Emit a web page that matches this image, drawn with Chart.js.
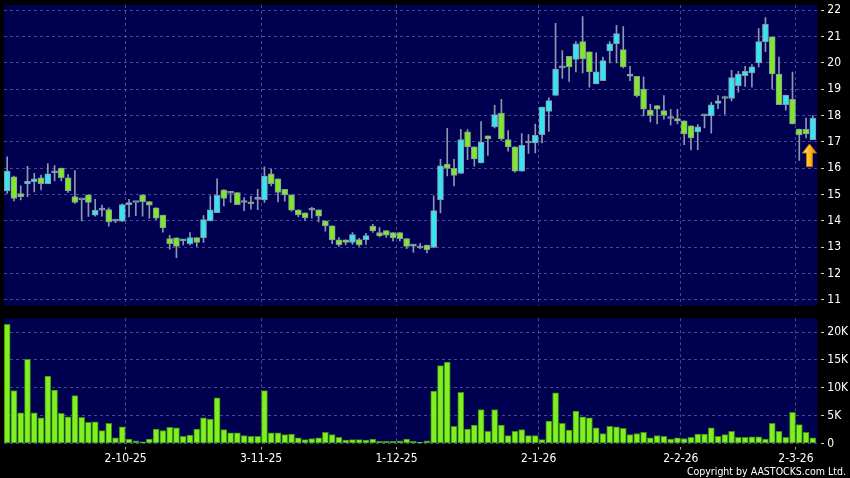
<!DOCTYPE html>
<html lang="en">
<head>
  <meta charset="UTF-8" />
  <title>AASTOCKS daily chart</title>
  <script src="https://cdn.jsdelivr.net/npm/chart.js"></script>
  <style>
    * { margin: 0; padding: 0; box-sizing: border-box; }
    body {
      background: #000;
      width: 850px; height: 478px;
      overflow: hidden; position: relative;
      font-family: 'DejaVu Sans Condensed', 'DejaVu Sans', sans-serif;
    }
    #priceChart { position: absolute; left: 0; top: 0; }
    #volChart { position: absolute; left: 0; top: 318px; }
    .copy {
      position: absolute; right: 4px; top: 465px;
      color: #fff; font-size: 10.5px; line-height: 12px; white-space: nowrap;
    }
  </style>
</head>
<body>
  <canvas id="priceChart" width="850" height="318"></canvas>
  <canvas id="volChart" width="850" height="160"></canvas>
  <div class="copy">Copyright by AASTOCKS.com Ltd.</div>

<script>
// daily candles, oldest first
const opens = [
  15.14,15.67,15.04,15.41,15.49,15.64,15.41,15.83,16.01,15.64,
  14.92,14.80,14.99,14.22,14.41,14.43,13.99,13.99,14.62,14.70,
  14.99,14.73,14.50,14.22,13.33,13.36,13.24,13.14,13.37,13.36,
  14.00,14.31,15.18,15.05,15.08,14.70,14.72,14.82,14.80,15.79,
  15.60,15.20,14.99,14.42,14.31,14.41,14.42,14.00,13.81,13.28,
  13.28,13.18,13.29,13.29,13.80,13.56,13.63,13.56,13.56,13.33,
  13.04,12.97,13.08,12.99,14.81,16.16,16.00,15.80,17.38,16.81,
  16.20,17.23,17.57,18.10,17.09,16.81,15.89,16.96,16.96,17.28,
  18.16,18.77,19.81,20.25,20.13,20.81,20.42,19.20,19.33,20.46,
  20.73,20.51,19.50,19.49,19.01,18.21,18.38,18.19,17.89,17.89,
  17.80,17.61,17.38,17.99,17.99,18.46,18.65,18.65,19.14,19.52,
  19.62,20.00,20.81,20.99,19.58,18.41,18.62,17.49,17.49,17.09
];
const highs = [
  16.43,15.70,15.33,16.07,15.81,15.74,16.18,16.10,16.01,15.76,
  15.91,14.80,14.99,14.82,14.60,14.50,14.05,14.65,14.82,14.70,
  14.99,14.73,14.50,14.22,13.45,13.36,13.30,13.56,13.37,14.20,
  14.95,15.60,15.18,15.12,15.08,14.89,14.93,15.20,16.05,15.98,
  15.60,15.20,14.99,14.42,14.31,14.52,14.42,14.00,13.81,13.37,
  13.28,13.56,13.34,13.53,13.87,13.75,13.63,13.56,13.56,13.33,
  13.11,13.15,13.08,14.95,16.34,17.52,16.34,17.48,17.47,16.81,
  17.77,17.23,18.39,18.62,17.43,16.81,17.32,17.28,17.68,18.32,
  18.67,21.50,20.47,20.25,20.81,21.76,20.42,20.38,20.22,20.81,
  21.43,21.38,19.87,19.49,19.47,18.43,18.38,18.76,18.24,18.24,
  17.80,17.61,17.66,18.05,18.50,18.76,18.74,19.72,19.68,19.87,
  19.94,21.30,21.72,20.99,20.22,18.78,19.65,17.49,17.91,18.00
];
const lows = [
  15.04,14.76,14.80,14.92,15.10,15.18,15.41,15.52,15.52,15.08,
  14.66,14.00,14.17,14.18,14.18,13.80,13.93,13.97,14.15,14.20,
  14.18,14.10,14.05,13.57,12.93,12.60,13.09,13.09,13.03,13.18,
  14.00,14.31,14.57,14.70,14.62,14.39,14.45,14.43,14.70,15.33,
  14.72,14.75,14.37,14.16,14.03,14.10,13.96,13.61,13.14,13.03,
  13.10,13.11,13.03,13.11,13.56,13.39,13.37,13.23,13.24,12.95,
  12.80,12.95,12.78,12.99,14.30,15.71,15.33,15.80,16.33,16.08,
  16.20,16.49,17.53,17.06,16.65,15.85,15.89,16.56,16.58,16.96,
  17.40,18.77,19.41,19.30,19.66,19.62,19.08,19.20,19.33,20.00,
  20.00,19.81,19.33,18.71,17.99,17.76,17.68,17.86,17.65,17.68,
  16.90,16.70,16.71,17.53,17.33,18.26,18.05,18.56,18.89,19.11,
  19.08,19.85,20.43,19.01,18.41,18.21,17.68,16.30,17.15,17.09
];
const closes = [
  15.89,14.85,14.92,15.50,15.60,15.41,15.79,15.83,15.64,15.14,
  14.70,14.80,14.70,14.40,14.41,13.96,13.99,14.62,14.70,14.70,
  14.73,14.60,14.10,13.73,13.14,13.03,13.30,13.37,13.18,14.05,
  14.42,14.97,14.85,15.05,14.62,14.70,14.65,14.82,15.70,15.41,
  15.08,14.99,14.41,14.23,14.12,14.41,14.18,13.81,13.28,13.10,
  13.18,13.48,13.09,13.44,13.62,13.43,13.46,13.35,13.33,13.03,
  13.11,12.97,12.91,14.39,16.09,15.99,15.73,17.09,16.81,16.35,
  16.99,17.11,18.04,17.11,16.81,15.89,16.87,16.96,17.25,18.32,
  18.57,19.77,19.81,19.85,20.73,20.15,19.66,19.66,20.09,20.73,
  21.11,19.85,19.58,18.76,18.24,18.01,18.24,18.01,17.89,17.80,
  17.30,17.15,17.57,17.99,18.41,18.56,18.65,19.44,19.58,19.68,
  19.85,20.81,21.47,19.58,18.41,18.78,17.68,17.27,17.30,17.91
];
// volume in thousands of shares
const volumesK = [
  21.4,9.5,5.5,15.1,5.5,4.6,12.1,9.6,5.4,4.8,
  8.6,4.7,3.8,3.9,2.3,3.6,1.0,3.0,0.8,0.5,
  0.3,0.8,2.6,2.3,2.9,2.8,1.3,1.5,2.6,4.6,
  4.4,8.2,2.5,1.9,1.9,1.4,1.3,1.3,9.5,1.9,
  1.9,1.6,1.7,1.0,0.7,0.9,1.0,2.0,1.6,1.1,
  0.6,0.7,0.7,0.6,0.8,0.4,0.4,0.4,0.5,0.8,
  0.4,0.2,0.5,9.4,14.0,14.6,3.1,9.2,2.6,3.3,
  6.1,2.2,6.1,3.3,1.4,2.2,2.5,1.4,1.4,0.7,
  4.0,9.1,3.6,2.4,5.8,4.8,4.6,2.8,1.8,3.1,
  3.0,2.7,1.6,1.8,2.0,1.0,1.4,1.3,0.8,1.0,
  0.9,1.1,1.7,1.7,2.8,1.3,1.6,2.2,1.1,1.1,
  1.2,1.2,0.8,3.6,2.2,1.1,5.6,3.4,2.0,1.0
];
// month-start positions (between trading days) and their labels
const dateTicks = [17.5, 37.5, 57.5, 78.5, 99.5, 116.5];
const dateLabels = ['2-10-25', '3-11-25', '1-12-25', '2-1-26', '2-2-26', '2-3-26'];
const priceTicks = [11, 12, 13, 14, 15, 16, 17, 18, 19, 20, 21, 22];
const volTicks = [0, 5000, 10000, 15000, 20000];
const arrowMark = { x: 118.5, top: 16.92, bottom: 16.06 };

const NAVY = '#000050';
const GRID = 'rgba(125,135,185,0.55)';
const UP = '#38e4f2', DOWN = '#80e82a', FLAT = '#8c9bb0';
const FONT = { family: "'DejaVu Sans Condensed', 'DejaVu Sans', sans-serif", size: 12 };

const idx = opens.map((_, i) => i);
const bodyColors = idx.map(i => closes[i] > opens[i] ? UP : closes[i] < opens[i] ? DOWN : FLAT);

const navyBg = {
  id: 'navyBg',
  beforeDraw(chart) {
    const a = chart.chartArea, ctx = chart.ctx;
    ctx.save();
    ctx.fillStyle = NAVY;
    ctx.fillRect(a.left, a.top, a.right - a.left, a.bottom - a.top);
    ctx.restore();
  }
};

const arrowPlugin = {
  id: 'arrow',
  afterDatasetsDraw(chart) {
    const xs = chart.scales.x, ys = chart.scales.y, ctx = chart.ctx;
    const cx = xs.getPixelForValue(arrowMark.x);
    const top = ys.getPixelForValue(arrowMark.top);
    const bot = ys.getPixelForValue(arrowMark.bottom);
    const head = 9, hw = 7, sw = 3;
    ctx.save();
    ctx.beginPath();
    ctx.moveTo(cx, top);
    ctx.lineTo(cx + hw, top + head);
    ctx.lineTo(cx + sw, top + head);
    ctx.lineTo(cx + sw, bot);
    ctx.lineTo(cx - sw, bot);
    ctx.lineTo(cx - sw, top + head);
    ctx.lineTo(cx - hw, top + head);
    ctx.closePath();
    const g = ctx.createLinearGradient(cx - hw, 0, cx + hw, 0);
    g.addColorStop(0, '#ffe680');
    g.addColorStop(0.5, '#ffc020');
    g.addColorStop(1, '#e08a00');
    ctx.fillStyle = g;
    ctx.fill();
    ctx.strokeStyle = '#c07000';
    ctx.lineWidth = 1;
    ctx.stroke();
    ctx.restore();
  }
};

// keep the plot box exactly where the layout padding puts it
function noPad(s) {
  s.paddingTop = 0; s.paddingBottom = 0; s.paddingLeft = 0; s.paddingRight = 0;
}

function xAxis(showLabels) {
  return {
    type: 'linear', min: -0.47, max: 119.66, offset: false,
    afterBuildTicks: s => { s.ticks = dateTicks.map(v => ({ value: v })); },
    afterFit: s => { s.height = showLabels ? 34.5 : 0; noPad(s); },
    grid: {
      color: GRID, offset: false, drawTicks: showLabels, tickLength: 6,
      tickColor: '#aaa', tickBorderDash: [0, 3, 3, 20]
    },
    border: { display: false, dash: [3, 3] },
    ticks: {
      display: showLabels, color: '#fff', font: FONT, padding: 2,
      maxRotation: 0, autoSkip: false,
      callback: (v, i) => dateLabels[i]
    }
  };
}

function yAxis(min, max, tickVals, fmt) {
  return {
    position: 'right', min: min, max: max, beginAtZero: false,
    afterBuildTicks: s => { s.ticks = tickVals.map(v => ({ value: v })); },
    afterFit: s => { s.width = 32.7; noPad(s); },
    grid: { color: GRID, tickLength: 7, tickColor: '#ccc', tickBorderDash: [0, 4, 3, 20] },
    border: { display: false, dash: [3, 3] },
    ticks: { color: '#fff', font: FONT, padding: 3, callback: fmt }
  };
}

new Chart(document.getElementById('priceChart'), {
  type: 'bar',
  data: {
    datasets: [
      {
        label: 'wick',
        data: idx.map(i => ({ x: i, y: [lows[i], highs[i]] })),
        backgroundColor: '#8b98b0',
        barThickness: 1,
        grouped: false,
        order: 2
      },
      {
        label: 'body',
        data: idx.map(i => ({ x: i, y: [opens[i], closes[i]] })),
        backgroundColor: bodyColors,
        borderColor: '#8a96a6',
        borderWidth: 1,
        borderSkipped: false,
        barThickness: 6,
        minBarLength: 2,
        grouped: false,
        order: 1
      }
    ]
  },
  options: {
    responsive: false,
    animation: false,
    devicePixelRatio: 1,
    layout: { autoPadding: false, padding: { left: 4, top: 5, right: 0, bottom: 12.3 } },
    plugins: { legend: { display: false }, tooltip: { enabled: false } },
    scales: {
      x: xAxis(false),
      y: yAxis(10.78, 22.2, priceTicks, v => String(v))
    }
  },
  plugins: [navyBg, arrowPlugin]
});

new Chart(document.getElementById('volChart'), {
  type: 'bar',
  data: {
    datasets: [{
      label: 'volume',
      data: idx.map(i => ({ x: i, y: volumesK[i] * 1000 })),
      backgroundColor: '#80f020',
      borderColor: '#3c8c14',
      borderWidth: 1,
      borderSkipped: false,
      barThickness: 6
    }]
  },
  options: {
    responsive: false,
    animation: false,
    devicePixelRatio: 1,
    layout: { autoPadding: false, padding: { left: 4, top: 0.3, right: 0, bottom: 0 } },
    plugins: { legend: { display: false }, tooltip: { enabled: false } },
    scales: {
      x: xAxis(true),
      y: yAxis(0, 22460, volTicks, v => v === 0 ? '0' : (v / 1000) + 'K')
    }
  },
  plugins: [navyBg]
});
</script>
</body>
</html>
